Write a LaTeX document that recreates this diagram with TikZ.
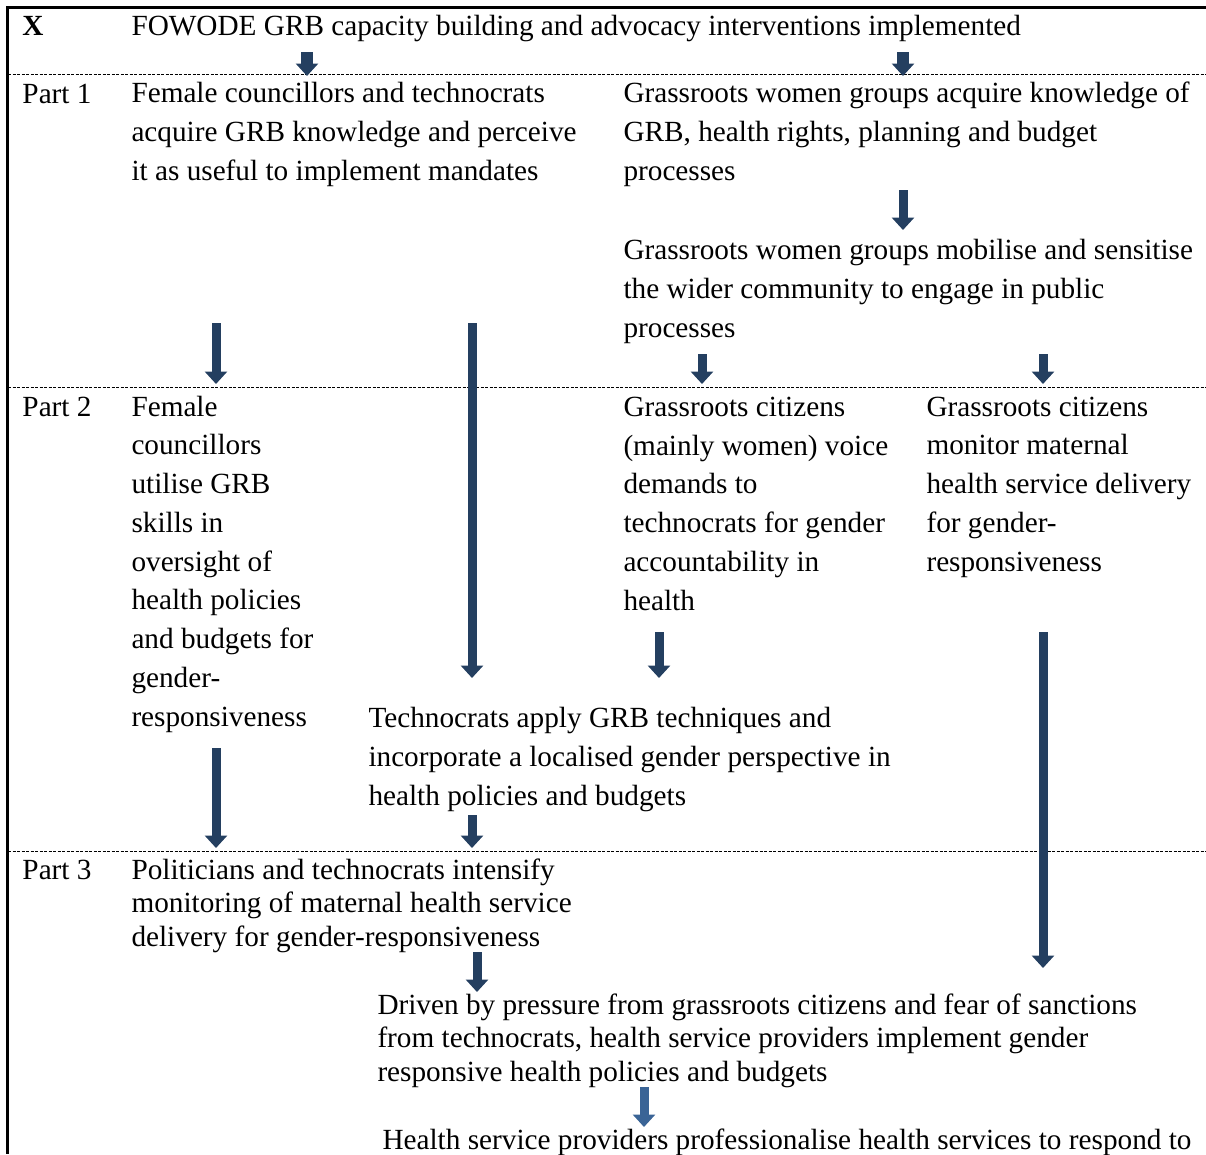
\documentclass[tikz,border=0pt]{standalone}
\usepackage{fontspec}
\setmainfont{Liberation Serif}
\usetikzlibrary{arrows.meta}
\definecolor{arrowblue}{HTML}{243F60}
\definecolor{arrowlight}{HTML}{3A6496}

\begin{document}
\begin{tikzpicture}[
  x=0.4pt, y=-0.4pt,
  txt/.style={
    anchor=base west, inner sep=0pt, align=left,
    font=\fontsize{11.7}{15.5}\selectfont
  },
  tight/.style={font=\fontsize{11.7}{13.4}\selectfont},
  flow/.style={
    line width=3.6pt, arrowblue,
    -{Triangle[width=8.8pt, length=5pt]}
  },
  rule/.style={line width=0.4pt, dash pattern=on 1.2pt off 0.6pt},
  frame/.style={line width=1.2pt}
]
\useasboundingbox (0,0) rectangle (1206,1154);

% frame and row rules
\draw[frame] (1206,7) -- (7,7) -- (7,1154);
\draw[rule] (8,74) -- (1206,74);
\draw[rule] (8,387) -- (1206,387);
\draw[rule] (8,851) -- (1206,851);

% row X (nodes sit on the baseline of their last line)
\node[txt, font=\fontsize{11.7}{15.5}\selectfont\bfseries] (rowX) at (22,35) {X};
\node[txt] (fowode) at (131,35)
  {FOWODE GRB capacity building and advocacy interventions implemented};

% Part 1
\node[txt] (part1) at (22,103) {Part 1};
\node[txt] (femaleA) at (131,180)
  {Female councillors and technocrats\\acquire GRB knowledge and perceive\\it as useful to implement mandates};
\node[txt] (groupsA) at (623,180)
  {Grassroots women groups acquire knowledge of\\GRB, health rights, planning and budget\\processes};
\node[txt] (groupsB) at (623,337)
  {Grassroots women groups mobilise and sensitise\\the wider community to engage in public\\processes};

% Part 2
\node[txt] (part2) at (22,416) {Part 2};
\node[txt] (femaleB) at (131,726)
  {Female\\councillors\\utilise GRB\\skills in\\oversight of\\health policies\\and budgets for\\gender-\\responsiveness};
\node[txt] (voice) at (623,610)
  {Grassroots citizens\\(mainly women) voice\\demands to\\technocrats for gender\\accountability in\\health};
\node[txt] (monitor) at (926,571)
  {Grassroots citizens\\monitor maternal\\health service delivery\\for gender-\\responsiveness};
\node[txt] (techno) at (368,805)
  {Technocrats apply GRB techniques and\\incorporate a localised gender perspective in\\health policies and budgets};

% Part 3
\node[txt] (part3) at (22,879) {Part 3};
\node[txt, tight] (politic) at (131,946)
  {Politicians and technocrats intensify\\monitoring of maternal health service\\delivery for gender-responsiveness};
\node[txt, tight] (driven) at (377,1081)
  {Driven by pressure from grassroots citizens and fear of sanctions\\from technocrats, health service providers implement gender\\responsive health policies and budgets};
\node[txt] (profess) at (382,1149)
  {Health service providers professionalise health services to respond to};

% arrow ends
\coordinate (topAs) at (307,52);   \coordinate (topAe) at (307,76);
\coordinate (topBs) at (903,52);   \coordinate (topBe) at (903,76);
\coordinate (grpAs) at (903,190);  \coordinate (grpAe) at (903,230);
\coordinate (femAs) at (216,323);  \coordinate (femAe) at (216,384);
\coordinate (tecAs) at (472,323);  \coordinate (tecAe) at (472,678);
\coordinate (grpBs) at (702,354);  \coordinate (grpBe) at (702,384);
\coordinate (grpCs) at (1043,354); \coordinate (grpCe) at (1043,384);
\coordinate (voiAs) at (659,632);  \coordinate (voiAe) at (659,678);
\coordinate (monAs) at (1043,632); \coordinate (monAe) at (1043,968);
\coordinate (femBs) at (216,748);  \coordinate (femBe) at (216,848);
\coordinate (tecBs) at (472,815);  \coordinate (tecBe) at (472,848);
\coordinate (polAs) at (477,952);  \coordinate (polAe) at (477,992);
\coordinate (drvAs) at (644,1087); \coordinate (drvAe) at (644,1127);

\draw[flow, line width=4.8pt] (topAs) -- (topAe);
\draw[flow, line width=4.8pt] (topBs) -- (topBe);
\draw[flow] (grpAs) -- (grpAe);
\draw[flow] (femAs) -- (femAe);
\draw[flow] (tecAs) -- (tecAe);
\draw[flow] (grpBs) -- (grpBe);
\draw[flow] (grpCs) -- (grpCe);
\draw[flow] (voiAs) -- (voiAe);
\draw[flow] (monAs) -- (monAe);
\draw[flow] (femBs) -- (femBe);
\draw[flow] (tecBs) -- (tecBe);
\draw[flow] (polAs) -- (polAe);
\draw[flow, arrowlight] (drvAs) -- (drvAe);

\end{tikzpicture}
\end{document}
